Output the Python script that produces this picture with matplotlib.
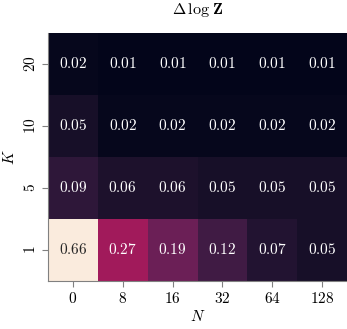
import numpy as np
import matplotlib
matplotlib.use("Agg")
import matplotlib.pyplot as plt
import seaborn as sns

N_labels = ["0", "8", "16", "32", "64", "128"]
K_labels = ["20", "10", "5", "1"]
values = [
    [0.02, 0.01, 0.01, 0.01, 0.01, 0.01],
    [0.05, 0.02, 0.02, 0.02, 0.02, 0.02],
    [0.09, 0.06, 0.06, 0.05, 0.05, 0.05],
    [0.66, 0.27, 0.19, 0.12, 0.07, 0.05],
]

plt.rcParams['mathtext.fontset'] = 'cm'
plt.rcParams['font.family'] = 'serif'
plt.rcParams['font.serif'] = ['cmr10', 'DejaVu Serif']
plt.rcParams['axes.formatter.use_mathtext'] = True

fig = plt.figure(figsize=(3.47, 3.29), dpi=100)
ax = fig.add_axes([48/347, 1-281/329, 299/347, 248/329])
data = np.array(values)
sns.heatmap(data, ax=ax, cmap='rocket', cbar=False, annot=False)
cmap = plt.get_cmap('rocket')
norm = plt.Normalize(data.min(), data.max())
for i in range(data.shape[0]):
    for j in range(data.shape[1]):
        v = data[i, j]
        r, g, b, _ = cmap(norm(v))
        lum = 0.2126*r + 0.7152*g + 0.0722*b
        col = '#262626' if lum > 0.4 else 'white'
        ax.text(j+0.5, i+0.5, r'$%.2f$' % v, ha='center', va='center', color=col, fontsize=11)

ax.set_xticks(np.arange(len(N_labels)) + 0.5)
ax.set_xticklabels([r'$%s$' % s for s in N_labels], fontsize=11)
ax.set_yticks(np.arange(len(K_labels)) + 0.5)
ax.set_yticklabels([r'$%s$' % s for s in K_labels], fontsize=11, rotation=90, va='center')
ax.set_xlabel(r'$N$', fontsize=11, labelpad=2)
ax.set_ylabel(r'$K$', fontsize=11, labelpad=4)
ax.set_title(r'$\boldsymbol{\Delta}\,\log\,\mathbf{Z}$', fontsize=11.5, pad=14)
for s in ['left', 'bottom']:
    ax.spines[s].set_visible(True)
    ax.spines[s].set_color('#808080')
    ax.spines[s].set_linewidth(0.8)
for s in ['right', 'top']:
    ax.spines[s].set_visible(False)
ax.tick_params(axis='both', length=4, width=0.8, color='#808080')
fig.savefig('out.png', dpi=100)
